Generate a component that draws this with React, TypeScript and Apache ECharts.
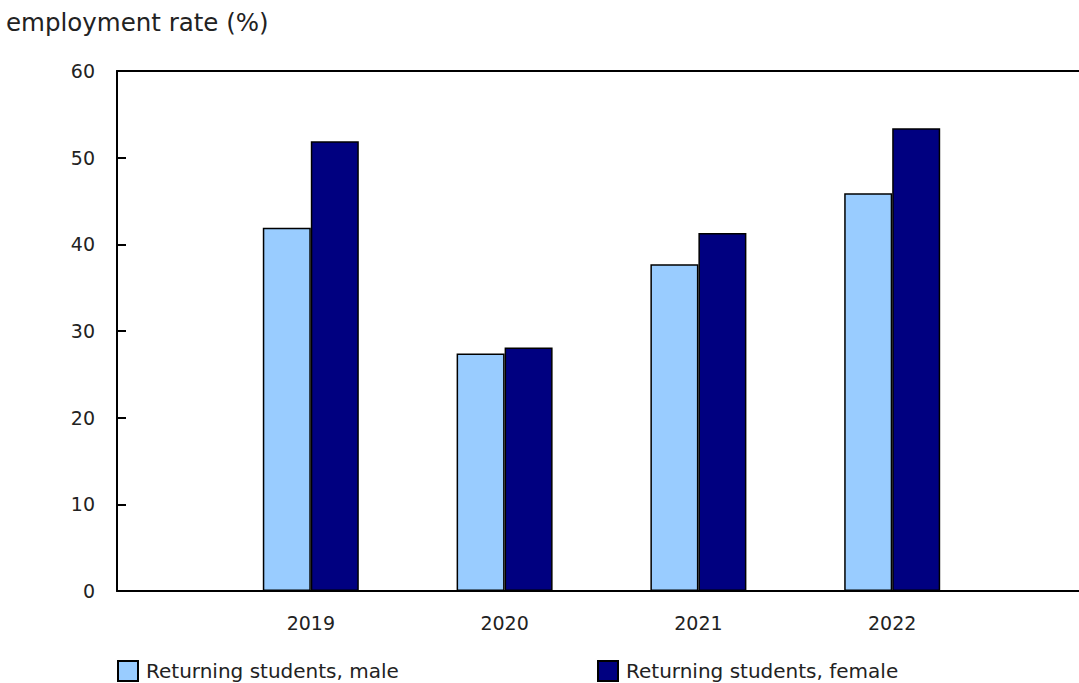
import React, { useEffect, useRef } from "react";
import * as echarts from "echarts";

const categories = ["", "2019", "2020", "2021", "2022", ""];
const maleValues = [null, 41.9, 27.4, 37.7, 45.9, null];
const femaleValues = [null, 51.9, 28.1, 41.3, 53.4, null];
const yTicks = [0, 10, 20, 30, 40, 50, 60];
const seriesNames = ["Returning students, male", "Returning students, female"];
const titleText = "employment rate (%)";

const FONT = "'DejaVu Sans', Verdana, sans-serif";

export default function App() {
  const ref = useRef<HTMLDivElement>(null);
  useEffect(() => {
    if (!ref.current) return;
    const chart = echarts.init(ref.current, undefined, { renderer: "svg" });
    const legendText = { fontFamily: FONT, fontSize: 20, color: "#222222", padding: [0, 0, 0, 3] };
    chart.setOption({
      animation: false,
      backgroundColor: "#ffffff",
      textStyle: { fontFamily: FONT, color: "#222222" },
      title: {
        text: titleText,
        left: 6,
        top: 10,
        padding: 0,
        textStyle: { fontFamily: FONT, fontSize: 24.5, fontWeight: "normal", color: "#222222" },
      },
      legend: [
        {
          data: [seriesNames[0]],
          left: 117,
          top: 660,
          padding: 0,
          itemWidth: 20,
          itemHeight: 20,
          itemGap: 10,
          icon: "rect",
          textStyle: legendText,
        },
        {
          data: [seriesNames[1]],
          left: 597,
          top: 660,
          padding: 0,
          itemWidth: 20,
          itemHeight: 20,
          itemGap: 10,
          icon: "rect",
          textStyle: legendText,
        },
      ],
      grid: { left: 117, top: 71, right: 0, bottom: 92, containLabel: false },
      xAxis: [
        {
          type: "category",
          data: categories,
          boundaryGap: false,
          axisLine: { show: true, lineStyle: { color: "#000000", width: 2 } },
          axisTick: { show: false },
          axisLabel: { fontFamily: FONT, fontSize: 19, color: "#222222", margin: 22 },
          splitLine: { show: false },
        },
        {
          type: "category",
          data: categories,
          position: "top",
          boundaryGap: false,
          axisLine: { show: true, onZero: false, lineStyle: { color: "#000000", width: 2 } },
          axisTick: { show: false },
          axisLabel: { show: false },
          splitLine: { show: false },
        },
      ],
      yAxis: {
        type: "value",
        min: yTicks[0],
        max: yTicks[yTicks.length - 1],
        interval: 10,
        axisLine: { show: true, lineStyle: { color: "#000000", width: 2 } },
        axisTick: { show: true, inside: true, length: 9, lineStyle: { color: "#000000", width: 2 } },
        axisLabel: { fontFamily: FONT, fontSize: 19, color: "#222222", margin: 22 },
        splitLine: { show: false },
      },
      series: [
        {
          name: seriesNames[0],
          type: "bar",
          data: maleValues,
          barWidth: 48,
          barGap: "0%",
          itemStyle: { color: "#99ccff", borderColor: "#000000", borderWidth: 1.5 },
        },
        {
          name: seriesNames[1],
          type: "bar",
          data: femaleValues,
          barWidth: 48,
          barGap: "0%",
          itemStyle: { color: "#000080", borderColor: "#000000", borderWidth: 1.5 },
        },
      ],
    });
    return () => chart.dispose();
  }, []);
  return (
    <div style={{ position: "absolute", left: 0, top: 0, width: 1079, height: 683, overflow: "hidden" }}>
      <div ref={ref} style={{ width: 1089, height: 683 }} />
    </div>
  );
}
